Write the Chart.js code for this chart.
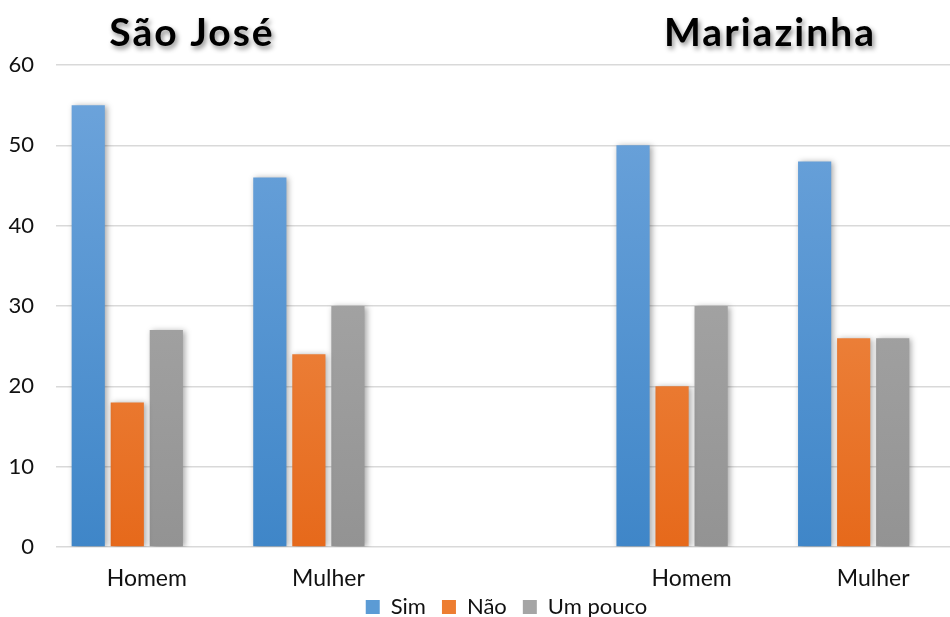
<!DOCTYPE html>
<html>
<head>
<meta charset="utf-8">
<script src="https://cdn.jsdelivr.net/npm/chart.js@4.4.0/dist/chart.umd.min.js"></script>
<style>
  html, body { margin: 0; padding: 0; background: #fff; overflow: hidden; }
  #vista { width: 950px; height: 617px; overflow: hidden; }
  #wrap { width: 965px; height: 617px; position: relative; }
</style>
</head>
<body>
<div id="vista"><div id="wrap"><canvas id="c"></canvas></div></div>
<script>
// dados
const categorias = ['Homem', 'Mulher', '', 'Homem', 'Mulher'];
const sim = [55, 46, null, 50, 48];
const nao = [18, 24, null, 20, 26];
const umPouco = [27, 30, null, 30, 26];
const vazio = [null, null, null, null, null];
const yTicks = [0, 10, 20, 30, 40, 50, 60];
const titulos = [
  { texto: 'São José', x: 192 },
  { texto: 'Mariazinha', x: 770 }
];

function grad(top, bottom) {
  return function (ctx) {
    const area = ctx.chart.chartArea;
    if (!area) return bottom;
    const g = ctx.chart.ctx.createLinearGradient(0, area.top, 0, area.bottom);
    g.addColorStop(0, top);
    g.addColorStop(1, bottom);
    return g;
  };
}

const sombra = {
  id: 'sombra',
  afterInit(chart) {
    // legenda colada no fundo, sem mexer no espaco entre itens
    const lg = chart.legend;
    const fit = lg.fit.bind(lg);
    lg.fit = function () { fit(); this.height = 25; };
    const drawItens = lg._draw.bind(lg);
    lg._draw = function () {
      const c = chart.ctx;
      c.save();
      c.translate(23, -12);
      drawItens();
      c.restore();
    };
  },
  beforeDatasetDraw(chart) {
    const c = chart.ctx;
    c.save();
    c.shadowColor = 'rgba(0,0,0,0.35)';
    c.shadowBlur = 6;
    c.shadowOffsetX = 2;
    c.shadowOffsetY = 1;
  },
  afterDatasetDraw(chart) {
    chart.ctx.restore();
  }
};

const titulosPlugin = {
  id: 'titulos',
  afterDraw(chart) {
    const c = chart.ctx;
    c.save();
    c.font = 'bold 39px Lato';
    if ('letterSpacing' in c) c.letterSpacing = '2px';
    c.textAlign = 'center';
    c.textBaseline = 'middle';
    c.fillStyle = '#000';
    c.shadowColor = 'rgba(0,0,0,0.45)';
    c.shadowBlur = 5;
    c.shadowOffsetX = 2;
    c.shadowOffsetY = 3;
    titulos.forEach(t => c.fillText(t.texto, t.x, 33));
    c.restore();
  }
};

new Chart(document.getElementById('c'), {
  type: 'bar',
  data: {
    labels: categorias,
    datasets: [
      { label: 'Sim', data: sim, backgroundColor: grad('#6fa5dc', '#3f86c8') },
      { label: 'Não', data: nao, backgroundColor: grad('#f29a5c', '#e6691b') },
      { label: 'Um pouco', data: umPouco, backgroundColor: grad('#b0b0b0', '#939393') },
      { label: '', data: vazio, backgroundColor: 'rgba(0,0,0,0)' }
    ]
  },
  options: {
    responsive: true,
    maintainAspectRatio: false,
    animation: false,
    layout: { padding: { top: 65, right: 1, left: 3, bottom: 0 } },
    datasets: { bar: { categoryPercentage: 0.86, barPercentage: 0.85 } },
    scales: {
      x: {
        grid: { display: false },
        border: { display: false },
        afterFit(axis) { axis.height = 45; },
        ticks: { color: '#111', font: { family: 'Lato', size: 23 }, padding: 10, maxRotation: 0 }
      },
      y: {
        min: 0, max: 60,
        afterBuildTicks(axis) { axis.ticks = yTicks.map(v => ({ value: v })); },
        afterFit(axis) { axis.width = 53; },
        grid: { color: '#d9d9d9', lineWidth: 1.5, drawTicks: false },
        border: { display: false },
        ticks: { color: '#111', font: { family: 'Lato', size: 22 }, padding: 22 }
      }
    },
    plugins: {
      legend: {
        position: 'bottom',
        labels: {
          filter: item => item.text !== '',
          boxWidth: 14, boxHeight: 14,
          padding: 16,
          color: '#111',
          font: { family: 'Lato', size: 22 },
          generateLabels(chart) {
            const cores = ['#5b9bd5', '#ed7d31', '#a5a5a5', 'rgba(0,0,0,0)'];
            return chart.data.datasets.map((d, i) => ({
              text: d.label, fillStyle: cores[i], strokeStyle: cores[i], lineWidth: 0,
              datasetIndex: i, hidden: false, fontColor: '#111'
            }));
          }
        }
      },
      tooltip: { enabled: false }
    }
  },
  plugins: [sombra, titulosPlugin]
});
</script>
</body>
</html>
